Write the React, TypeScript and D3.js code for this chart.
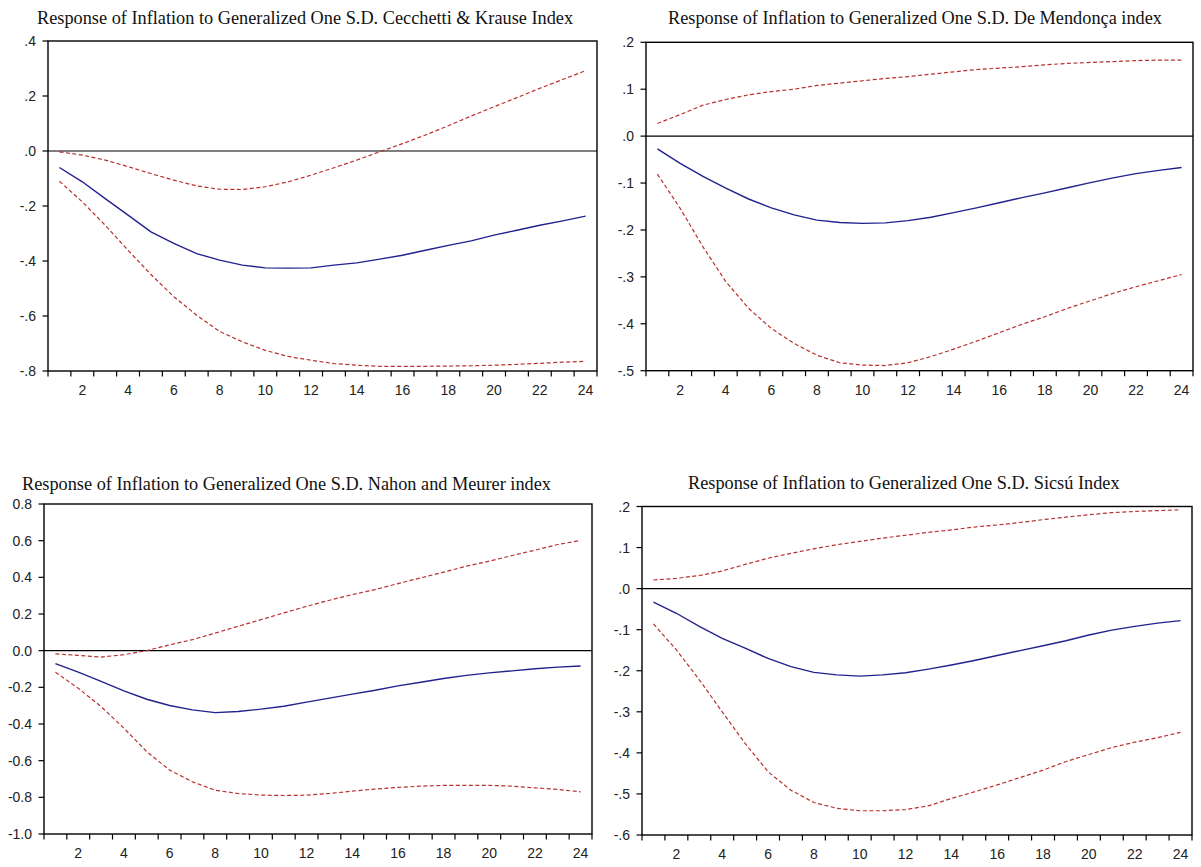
import React from "react";
import * as d3 from "d3";

// ---------- DATA ----------
const periods = [1, 2, 3, 4, 5, 6, 7, 8, 9, 10, 11, 12, 13, 14, 15, 16, 17, 18, 19, 20, 21, 22, 23, 24];
const xTickLabels = ["2", "4", "6", "8", "10", "12", "14", "16", "18", "20", "22", "24"];
const xTickPeriods = [2, 4, 6, 8, 10, 12, 14, 16, 18, 20, 22, 24];

const titleCK = "Response of Inflation to Generalized One S.D. Cecchetti & Krause Index";
const titleDM = "Response of Inflation to Generalized One S.D. De Mendonça index";
const titleNM = "Response of Inflation to Generalized One S.D. Nahon and Meurer index";
const titleSI = "Response of Inflation to Generalized One S.D. Sicsú Index";

// Cecchetti & Krause
const ckResponse = [-0.06, -0.112, -0.173, -0.233, -0.294, -0.336, -0.373, -0.397, -0.415, -0.425, -0.426, -0.425, -0.415, -0.407, -0.393, -0.379, -0.361, -0.343, -0.327, -0.306, -0.288, -0.27, -0.254, -0.237];
const ckUpper = [-0.003, -0.015, -0.033, -0.057, -0.082, -0.106, -0.127, -0.139, -0.14, -0.13, -0.112, -0.088, -0.061, -0.033, -0.003, 0.027, 0.058, 0.092, 0.127, 0.161, 0.194, 0.228, 0.26, 0.292];
const ckLower = [-0.11, -0.185, -0.27, -0.361, -0.449, -0.53, -0.597, -0.656, -0.694, -0.725, -0.747, -0.761, -0.773, -0.779, -0.783, -0.783, -0.783, -0.782, -0.781, -0.779, -0.776, -0.772, -0.768, -0.765];
const ckTickValues = [0.4, 0.2, 0, -0.2, -0.4, -0.6, -0.8];
const ckTickLabels = [".4", ".2", ".0", "-.2", "-.4", "-.6", "-.8"];

// De Mendonça
const dmResponse = [-0.027, -0.058, -0.086, -0.111, -0.134, -0.153, -0.168, -0.179, -0.184, -0.186, -0.185, -0.18, -0.173, -0.163, -0.153, -0.142, -0.131, -0.121, -0.11, -0.099, -0.089, -0.08, -0.073, -0.067];
const dmUpper = [0.027, 0.046, 0.066, 0.078, 0.088, 0.095, 0.1, 0.108, 0.113, 0.118, 0.123, 0.127, 0.132, 0.137, 0.142, 0.145, 0.148, 0.152, 0.155, 0.157, 0.159, 0.161, 0.162, 0.162];
const dmLower = [-0.081, -0.154, -0.236, -0.31, -0.367, -0.41, -0.442, -0.467, -0.483, -0.488, -0.489, -0.483, -0.47, -0.454, -0.437, -0.419, -0.401, -0.385, -0.367, -0.351, -0.335, -0.321, -0.308, -0.295];
const dmTickValues = [0.2, 0.1, 0, -0.1, -0.2, -0.3, -0.4, -0.5];
const dmTickLabels = [".2", ".1", ".0", "-.1", "-.2", "-.3", "-.4", "-.5"];

// Nahon and Meurer
const nmResponse = [-0.071, -0.117, -0.168, -0.219, -0.265, -0.299, -0.323, -0.338, -0.332, -0.319, -0.303, -0.281, -0.259, -0.237, -0.216, -0.192, -0.172, -0.152, -0.135, -0.121, -0.11, -0.099, -0.09, -0.084];
const nmUpper = [-0.017, -0.026, -0.035, -0.022, 0.0, 0.032, 0.06, 0.096, 0.133, 0.169, 0.206, 0.242, 0.275, 0.306, 0.333, 0.366, 0.397, 0.428, 0.461, 0.488, 0.519, 0.548, 0.579, 0.601];
const nmLower = [-0.117, -0.205, -0.305, -0.423, -0.551, -0.651, -0.715, -0.761, -0.779, -0.788, -0.79, -0.788, -0.779, -0.766, -0.755, -0.746, -0.739, -0.735, -0.735, -0.735, -0.739, -0.748, -0.757, -0.77];
const nmTickValues = [0.8, 0.6, 0.4, 0.2, 0, -0.2, -0.4, -0.6, -0.8, -1.0];
const nmTickLabels = ["0.8", "0.6", "0.4", "0.2", "0.0", "-0.2", "-0.4", "-0.6", "-0.8", "-1.0"];

// Sicsú
const siResponse = [-0.033, -0.06, -0.092, -0.121, -0.145, -0.17, -0.19, -0.204, -0.21, -0.213, -0.21, -0.205, -0.196, -0.186, -0.175, -0.163, -0.151, -0.139, -0.127, -0.113, -0.101, -0.092, -0.084, -0.078];
const siUpper = [0.021, 0.025, 0.032, 0.043, 0.059, 0.074, 0.086, 0.097, 0.107, 0.115, 0.123, 0.13, 0.137, 0.143, 0.15, 0.155, 0.161, 0.168, 0.174, 0.18, 0.185, 0.188, 0.19, 0.192];
const siLower = [-0.086, -0.149, -0.222, -0.3, -0.377, -0.446, -0.491, -0.521, -0.535, -0.541, -0.541, -0.538, -0.529, -0.511, -0.495, -0.478, -0.46, -0.442, -0.421, -0.404, -0.387, -0.374, -0.363, -0.35];
const siTickValues = [0.2, 0.1, 0, -0.1, -0.2, -0.3, -0.4, -0.5, -0.6];
const siTickLabels = [".2", ".1", ".0", "-.1", "-.2", "-.3", "-.4", "-.5", "-.6"];

// ---------- LAYOUT ----------
const panelDefs = [
  { title: titleCK, resp: ckResponse, upper: ckUpper, lower: ckLower, tv: ckTickValues, tl: ckTickLabels,
    box: { l: 48, r: 597, t: 41, b: 371 }, titleX: 37, titleY: 24 },
  { title: titleDM, resp: dmResponse, upper: dmUpper, lower: dmLower, tv: dmTickValues, tl: dmTickLabels,
    box: { l: 646, r: 1193, t: 42.3, b: 370.7 }, titleX: 668, titleY: 24 },
  { title: titleNM, resp: nmResponse, upper: nmUpper, lower: nmLower, tv: nmTickValues, tl: nmTickLabels,
    box: { l: 44, r: 592, t: 504, b: 834 }, titleX: 22, titleY: 490 },
  { title: titleSI, resp: siResponse, upper: siUpper, lower: siLower, tv: siTickValues, tl: siTickLabels,
    box: { l: 642, r: 1192, t: 506.5, b: 835 }, titleX: 688, titleY: 489 },
];

const BLUE = "#22228f";
const RED = "#b8302e";
const LABEL_FONT = "'Liberation Sans', Arial, sans-serif";
const TITLE_FONT = "'Liberation Serif', 'Times New Roman', serif";

function Panel({ def }: { def: any }) {
  const { box } = def;
  const yMin = d3.min(def.tv as number[])!;
  const yMax = d3.max(def.tv as number[])!;
  const x = d3.scaleLinear().domain([0.5, periods.length + 0.5]).range([box.l, box.r]);
  const y = d3.scaleLinear().domain([yMin, yMax]).range([box.b, box.t]);
  const line = d3
    .line<number>()
    .x((_, i) => x(periods[i]))
    .y((v) => y(v));
  const boundaries = [...periods.map((p) => p - 0.5), periods[periods.length - 1] + 0.5];
  return (
    <g>
      <text x={def.titleX} y={def.titleY} fontFamily={TITLE_FONT} fontSize={18.3} fill="#111">
        {def.title}
      </text>
      <line x1={box.l} x2={box.r} y1={y(0)} y2={y(0)} stroke="#000" strokeWidth={1.2} />
      <path d={line(def.upper) || ""} fill="none" stroke={RED} strokeWidth={1.2} strokeDasharray="4,2.5" />
      <path d={line(def.lower) || ""} fill="none" stroke={RED} strokeWidth={1.2} strokeDasharray="4,2.5" />
      <path d={line(def.resp) || ""} fill="none" stroke={BLUE} strokeWidth={1.4} />
      <rect x={box.l} y={box.t} width={box.r - box.l} height={box.b - box.t} fill="none" stroke="#000" strokeWidth={1.4} />
      {(def.tv as number[]).map((v, i) => (
        <g key={"y" + i}>
          <line x1={box.l - 5.5} x2={box.l} y1={y(v)} y2={y(v)} stroke="#000" strokeWidth={1.2} />
          <text x={box.l - 12} y={y(v)} dy="0.36em" textAnchor="end" fontFamily={LABEL_FONT} fontSize={14} fill="#222">
            {def.tl[i]}
          </text>
        </g>
      ))}
      {boundaries.map((b, i) => (
        <line key={"xt" + i} x1={x(b)} x2={x(b)} y1={box.b} y2={box.b + 5.5} stroke="#000" strokeWidth={1.2} />
      ))}
      {xTickPeriods.map((p, i) => (
        <text key={"xl" + i} x={x(p)} y={box.b + 24} textAnchor="middle" fontFamily={LABEL_FONT} fontSize={14} fill="#222">
          {xTickLabels[i]}
        </text>
      ))}
    </g>
  );
}

export default function App() {
  return (
    <svg
      width={1201}
      height={867}
      style={{ position: "absolute", left: 0, top: 0, background: "#fff" }}
    >
      <rect x={0} y={0} width={1201} height={867} fill="#fff" />
      {panelDefs.map((d, i) => (
        <Panel key={i} def={d} />
      ))}
    </svg>
  );
}
